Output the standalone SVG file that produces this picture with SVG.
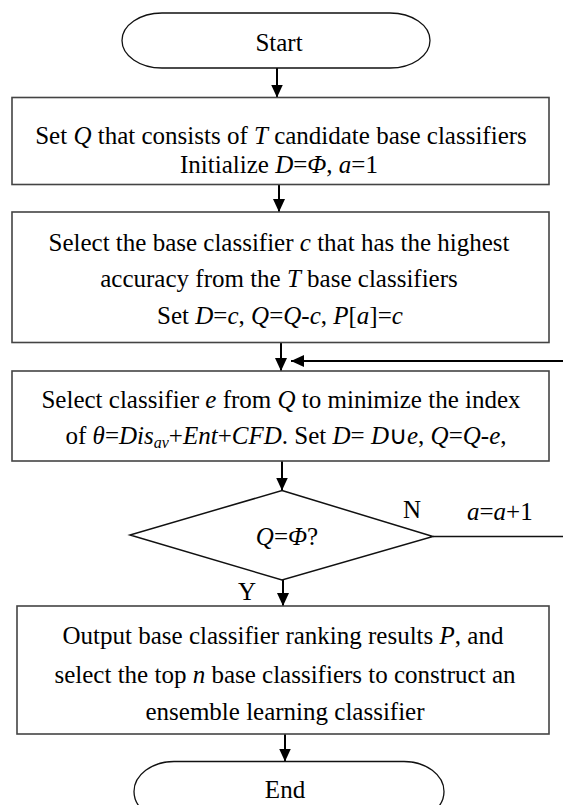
<svg xmlns="http://www.w3.org/2000/svg" width="563" height="805" viewBox="0 0 563 805">
<style>
text{font-family:"Liberation Serif","Times New Roman",serif;font-size:25px;fill:#000}
.c{text-anchor:middle}
.i{font-style:italic}
.sub{font-size:16px;font-style:italic}
.box{fill:#fff;stroke:#444;stroke-width:1.6}
.term{fill:#fff;stroke:#111;stroke-width:1.3}
.dia{fill:#fff;stroke:#111;stroke-width:1.5}
.con{fill:none;stroke:#000;stroke-width:2}
</style>
<defs>
<marker id="ah" viewBox="0 0 13 12" refX="13" refY="6" markerWidth="13" markerHeight="12" markerUnits="userSpaceOnUse" orient="auto">
<path d="M0,0 L13,6 L0,12 z" fill="#000"/>
</marker>
</defs>
<g id="connectors">
<line class="con" x1="277" y1="68" x2="277" y2="97.5" marker-end="url(#ah)"/>
<line class="con" x1="279" y1="184.5" x2="279" y2="212" marker-end="url(#ah)"/>
<line class="con" x1="281" y1="342.5" x2="281" y2="371" marker-end="url(#ah)"/>
<line class="con" x1="563" y1="361" x2="291" y2="361" marker-end="url(#ah)"/>
<line class="con" x1="282" y1="461" x2="282" y2="490.5" marker-end="url(#ah)"/>
<line fill="none" stroke="#111" stroke-width="1.5" x1="433" y1="536.5" x2="563" y2="536.5"/>
<line class="con" x1="283" y1="580" x2="283" y2="606" marker-end="url(#ah)"/>
<line class="con" x1="285" y1="734" x2="285" y2="761.5" marker-end="url(#ah)"/>
</g>
<g id="start">
<rect class="term" x="122" y="13" width="308" height="55" rx="40" ry="27.5"/>
<text class="c" x="279" y="51">Start</text>
</g>
<g id="init">
<rect class="box" x="12" y="97.5" width="537" height="87"/>
<text class="c" x="281" y="144">Set <tspan class="i">Q</tspan> that consists of <tspan class="i">T</tspan> candidate base classifiers</text>
<text class="c" x="279" y="173">Initialize <tspan class="i">D</tspan>=<tspan class="i">Φ</tspan>, <tspan class="i">a</tspan>=1</text>
</g>
<g id="select-first">
<rect class="box" x="12" y="212" width="537" height="130.5"/>
<text class="c" x="279" y="251">Select the base classifier <tspan class="i">c</tspan> that has the highest</text>
<text class="c" x="279" y="287">accuracy from the <tspan class="i">T</tspan> base classifiers</text>
<text class="c" x="280" y="324">Set <tspan class="i">D</tspan>=<tspan class="i">c</tspan>, <tspan class="i">Q</tspan>=<tspan class="i">Q</tspan>-<tspan class="i">c</tspan>, <tspan class="i">P</tspan>[<tspan class="i">a</tspan>]=<tspan class="i">c</tspan></text>
</g>
<g id="select-next">
<rect class="box" x="12" y="371" width="537" height="90"/>
<text class="c" x="281" y="408">Select classifier <tspan class="i">e</tspan> from <tspan class="i">Q</tspan> to minimize the index</text>
<text class="c" x="286" y="444">of <tspan class="i">θ</tspan>=<tspan class="i">Dis</tspan><tspan class="sub" dy="4">av</tspan><tspan dy="-4">+</tspan><tspan class="i">Ent</tspan>+<tspan class="i">CFD</tspan>. Set <tspan class="i">D</tspan>= <tspan class="i">D</tspan>∪<tspan class="i">e</tspan>, <tspan class="i">Q</tspan>=<tspan class="i">Q</tspan>-<tspan class="i">e</tspan>,</text>
</g>
<g id="decision">
<polygon class="dia" points="282,490.5 433,536.5 282,580 130,535"/>
<text class="c" x="287" y="545"><tspan class="i">Q</tspan>=<tspan class="i">Φ</tspan>?</text>
<text class="c" x="412" y="518">N</text>
<text x="467" y="520"><tspan class="i">a</tspan>=<tspan class="i">a</tspan>+1</text>
<text class="c" x="247" y="600">Y</text>
</g>
<g id="output">
<rect class="box" x="17" y="606" width="532" height="128"/>
<text class="c" x="283" y="644">Output base classifier ranking results <tspan class="i">P</tspan>, and</text>
<text class="c" x="285" y="683">select the top <tspan class="i">n</tspan> base classifiers to construct an</text>
<text class="c" x="285" y="720">ensemble learning classifier</text>
</g>
<g id="end">
<rect class="term" x="134" y="761.5" width="310" height="60" rx="40" ry="30"/>
<text class="c" x="285" y="798">End</text>
</g>
</svg>
